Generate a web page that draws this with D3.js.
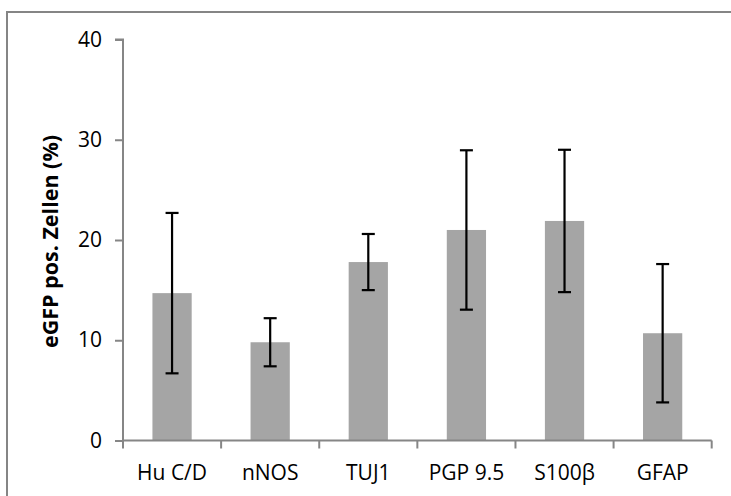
<!DOCTYPE html>
<html><head><meta charset="utf-8">
<script src="https://cdn.jsdelivr.net/npm/d3@7"></script>
<style>
html,body{margin:0;padding:0;background:#fff;}
svg{display:block;font-family:"Open Sans",sans-serif;}
</style></head>
<body><svg id="c" width="731" height="496"></svg>
<script>
const categories = ["Hu C/D","nNOS","TUJ1","PGP 9.5","S100β","GFAP"];
const means = [14.7, 9.8, 17.8, 21.0, 21.9, 10.7];
const errors = [8.0, 2.4, 2.8, 7.95, 7.1, 6.9];
const yTicks = [0, 10, 20, 30, 40];
const yTitle = "eGFP pos. Zellen (%)";

const svg = d3.select("#c");
// outer frame
svg.append("rect").attr("x",7).attr("y",12).attr("width",740).attr("height",500)
  .attr("fill","none").attr("stroke","#858585").attr("stroke-width",2);

const x0 = 123, x1 = 711.7, yTop = 39.5, yBot = 440.5;
const x = d3.scaleBand().domain(categories).range([x0,x1]).paddingInner(0.6).paddingOuter(0.3);
const xb = d3.scaleBand().domain(categories).range([x0,x1]);
const y = d3.scaleLinear().domain([0,40]).range([yBot,yTop]);

// bars
svg.selectAll(".bar").data(categories).enter().append("rect")
  .attr("x",d=>x(d)).attr("width",x.bandwidth())
  .attr("y",(d,i)=>y(means[i])).attr("height",(d,i)=>y(0)-y(means[i]))
  .attr("fill","#a5a5a5");

// y axis
const ya = svg.append("g").attr("transform",`translate(${x0},0)`)
  .call(d3.axisLeft(y).tickValues(yTicks).tickSize(8).tickPadding(13).tickFormat(d3.format("d")));
ya.select(".domain").attr("stroke","#868686").attr("stroke-width",2).attr("d",`M-8,${yTop}H0V${yBot}`);
ya.selectAll(".tick line").attr("stroke","#868686").attr("stroke-width",2);
ya.selectAll(".tick text").attr("fill","#000").style("font-size","21px").style("font-family","'Open Sans',sans-serif");

// x axis
const xa = svg.append("g").attr("transform",`translate(0,${yBot})`)
  .call(d3.axisBottom(xb).tickSize(0).tickPadding(24.5));
xa.select(".domain").attr("stroke","#868686").attr("stroke-width",2).attr("d",`M${x0},0H${x1}`);
xa.selectAll(".tick text").attr("fill","#000").style("font-size","21px").style("font-family","'Open Sans',sans-serif");
// boundary tick marks
const bounds = categories.map(d=>xb(d)).concat([x1]);
svg.selectAll(".xt").data(bounds).enter().append("line")
  .attr("x1",d=>d).attr("x2",d=>d).attr("y1",yBot).attr("y2",yBot+8)
  .attr("stroke","#868686").attr("stroke-width",2);

// error bars
const eb = svg.append("g").attr("stroke","#000").attr("stroke-width",2.2);
categories.forEach((c,i)=>{
  const cx = x(c)+x.bandwidth()/2;
  const lo = y(means[i]-errors[i]), hi = y(means[i]+errors[i]);
  eb.append("line").attr("x1",cx).attr("x2",cx).attr("y1",hi).attr("y2",lo);
  eb.append("line").attr("x1",cx-6.5).attr("x2",cx+6.5).attr("y1",hi).attr("y2",hi);
  eb.append("line").attr("x1",cx-6.5).attr("x2",cx+6.5).attr("y1",lo).attr("y2",lo);
});

// y title
svg.append("text").attr("transform","translate(58,241.5) rotate(-90)")
  .attr("text-anchor","middle").style("font-size","21.5px").style("font-weight","bold")
  .text(yTitle);
</script></body></html>
